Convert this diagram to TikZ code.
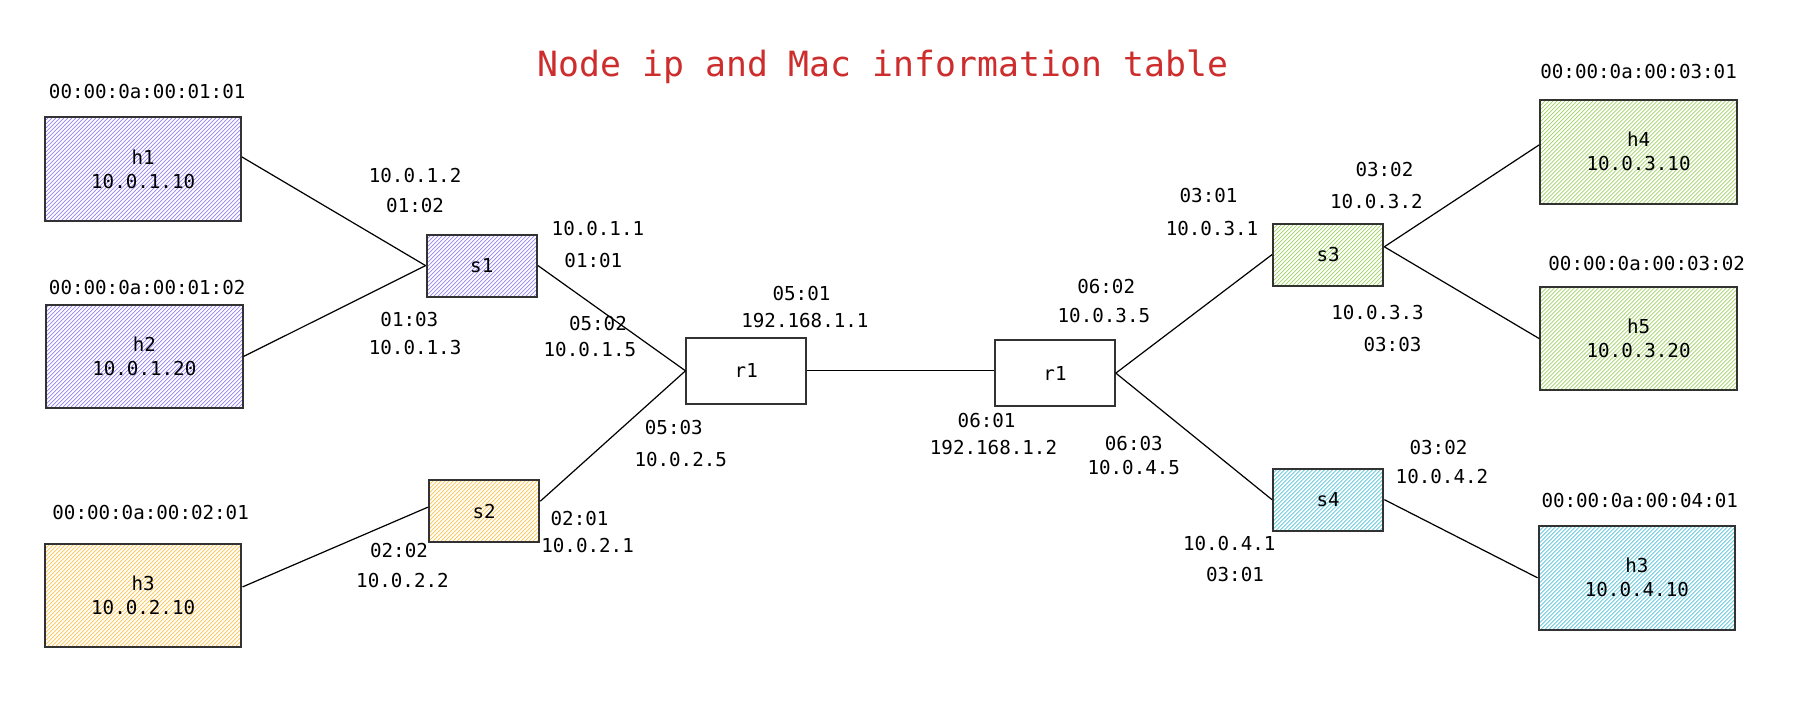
\documentclass[tikz,border=0pt]{standalone}
\usepackage{fontspec}
\setmonofont{DejaVu Sans Mono}
\usetikzlibrary{patterns.meta}

\definecolor{hostpurple}{RGB}{150,130,245}
\definecolor{hostorange}{RGB}{255,195,80}
\definecolor{hostgreen}{RGB}{160,210,100}
\definecolor{hostcyan}{RGB}{80,195,220}
\definecolor{titlered}{RGB}{205,45,45}
\definecolor{boxgray}{RGB}{50,50,50}

\begin{document}
\begin{tikzpicture}[
        every node/.style={font=\ttfamily\fontsize{9.5}{11.9}\selectfont},
        hatched/.style={pattern={Lines[angle=45,distance=1.4pt,line width=0.35pt]}, pattern color=#1},
        host/.style={draw=boxgray, line width=1pt, minimum width=3.42cm, minimum height=1.8cm, align=center, inner sep=0pt},
        switch/.style={draw=boxgray, line width=1pt, minimum width=1.92cm, minimum height=1.08cm, inner sep=0pt},
        router/.style={draw=boxgray, line width=1pt, fill=white, minimum width=2.08cm, minimum height=1.14cm, inner sep=0pt},
        link/.style={line width=0.6pt}
    ]
    % Page size
    \useasboundingbox (0,0) rectangle (31.36,12.42);

    % Title
    \node[text=titlered, font=\ttfamily\fontsize{17.2}{20}\selectfont] (title) at (15.36,11.26) {Node ip and Mac information table};

    % Hosts
    \node[host, hatched=hostpurple] (h1) at (2.49,9.48) {h1\\10.0.1.10};
    \node[host, hatched=hostpurple] (h2) at (2.51,6.22) {h2\\10.0.1.20};
    \node[host, hatched=hostorange] (h3) at (2.49,2.06) {h3\\10.0.2.10};
    \node[host, hatched=hostgreen] (h4) at (28.50,9.78) {h4\\10.0.3.10};
    \node[host, hatched=hostgreen] (h5) at (28.50,6.53) {h5\\10.0.3.20};
    \node[host, hatched=hostcyan] (h6) at (28.47,2.37) {h3\\10.0.4.10};

    % Switches
    \node[switch, hatched=hostpurple] (s1) at (8.38,7.80) {s1};
    \node[switch, hatched=hostorange] (s2) at (8.42,3.53) {s2};
    \node[switch, hatched=hostgreen] (s3) at (23.10,7.99) {s3};
    \node[switch, hatched=hostcyan] (s4) at (23.10,3.73) {s4};

    % Routers
    \node[router] (r1) at (12.98,5.97) {r1};
    \node[router] (r2) at (18.35,5.93) {r1};

    % Links
    \draw[link] (h1.7) -- (s1.west);
    \draw[link] (h2.east) -- (s1.west);
    \draw[link] (h3.5) -- (s2.176);
    \draw[link] (s1.east) -- (r1.west);
    \draw[link] (s2.10) -- (r1.west);
    \draw[link] (r1.east) -- (r1.east -| r2.west);
    \draw[link] (r2.east) -- (s3.west);
    \draw[link] (r2.east) -- (s4.west);
    \draw[link] (s3.8) -- (h4.176);
    \draw[link] (s3.8) -- (h5.west);
    \draw[link] (s4.east) -- (h6.west);

    % MAC addresses
    \node (mac1) at (2.56,10.82) {00:00:0a:00:01:01};
    \node (mac2) at (2.56,7.42) {00:00:0a:00:01:02};
    \node (mac3) at (2.62,3.50) {00:00:0a:00:02:01};
    \node (mac4) at (28.50,11.18) {00:00:0a:00:03:01};
    \node (mac5) at (28.64,7.84) {00:00:0a:00:03:02};
    \node (mac6) at (28.52,3.72) {00:00:0a:00:04:01};

    % Port labels, left side
    \node (p1a) at (7.22,9.36) {10.0.1.2};
    \node (p1b) at (7.22,8.84) {01:02};
    \node (p2a) at (10.40,8.44) {10.0.1.1};
    \node (p2b) at (10.32,7.88) {01:01};
    \node (p3a) at (7.12,6.86) {01:03};
    \node (p3b) at (7.22,6.38) {10.0.1.3};
    \node (p4a) at (10.40,6.80) {05:02};
    \node (p4b) at (10.26,6.34) {10.0.1.5};
    \node (p5a) at (13.94,7.32) {05:01};
    \node (p5b) at (14.00,6.84) {192.168.1.1};
    \node (p6a) at (11.72,4.98) {05:03};
    \node (p6b) at (11.84,4.42) {10.0.2.5};
    \node (p7a) at (10.08,3.40) {02:01};
    \node (p7b) at (10.22,2.94) {10.0.2.1};
    \node (p8a) at (6.94,2.84) {02:02};
    \node (p8b) at (7.00,2.32) {10.0.2.2};

    % Port labels, right side
    \node (q1a) at (17.16,5.10) {06:01};
    \node (q1b) at (17.28,4.64) {192.168.1.2};
    \node (q2a) at (19.24,7.44) {06:02};
    \node (q2b) at (19.20,6.94) {10.0.3.5};
    \node (q3a) at (19.72,4.70) {06:03};
    \node (q3b) at (19.72,4.28) {10.0.4.5};
    \node (q4a) at (21.02,9.02) {03:01};
    \node (q4b) at (21.08,8.44) {10.0.3.1};
    \node (q5a) at (24.08,9.48) {03:02};
    \node (q5b) at (23.94,8.92) {10.0.3.2};
    \node (q6a) at (23.96,6.98) {10.0.3.3};
    \node (q6b) at (24.22,6.42) {03:03};
    \node (q7a) at (25.02,4.64) {03:02};
    \node (q7b) at (25.08,4.14) {10.0.4.2};
    \node (q8a) at (21.38,2.96) {10.0.4.1};
    \node (q8b) at (21.48,2.42) {03:01};
\end{tikzpicture}
\end{document}
